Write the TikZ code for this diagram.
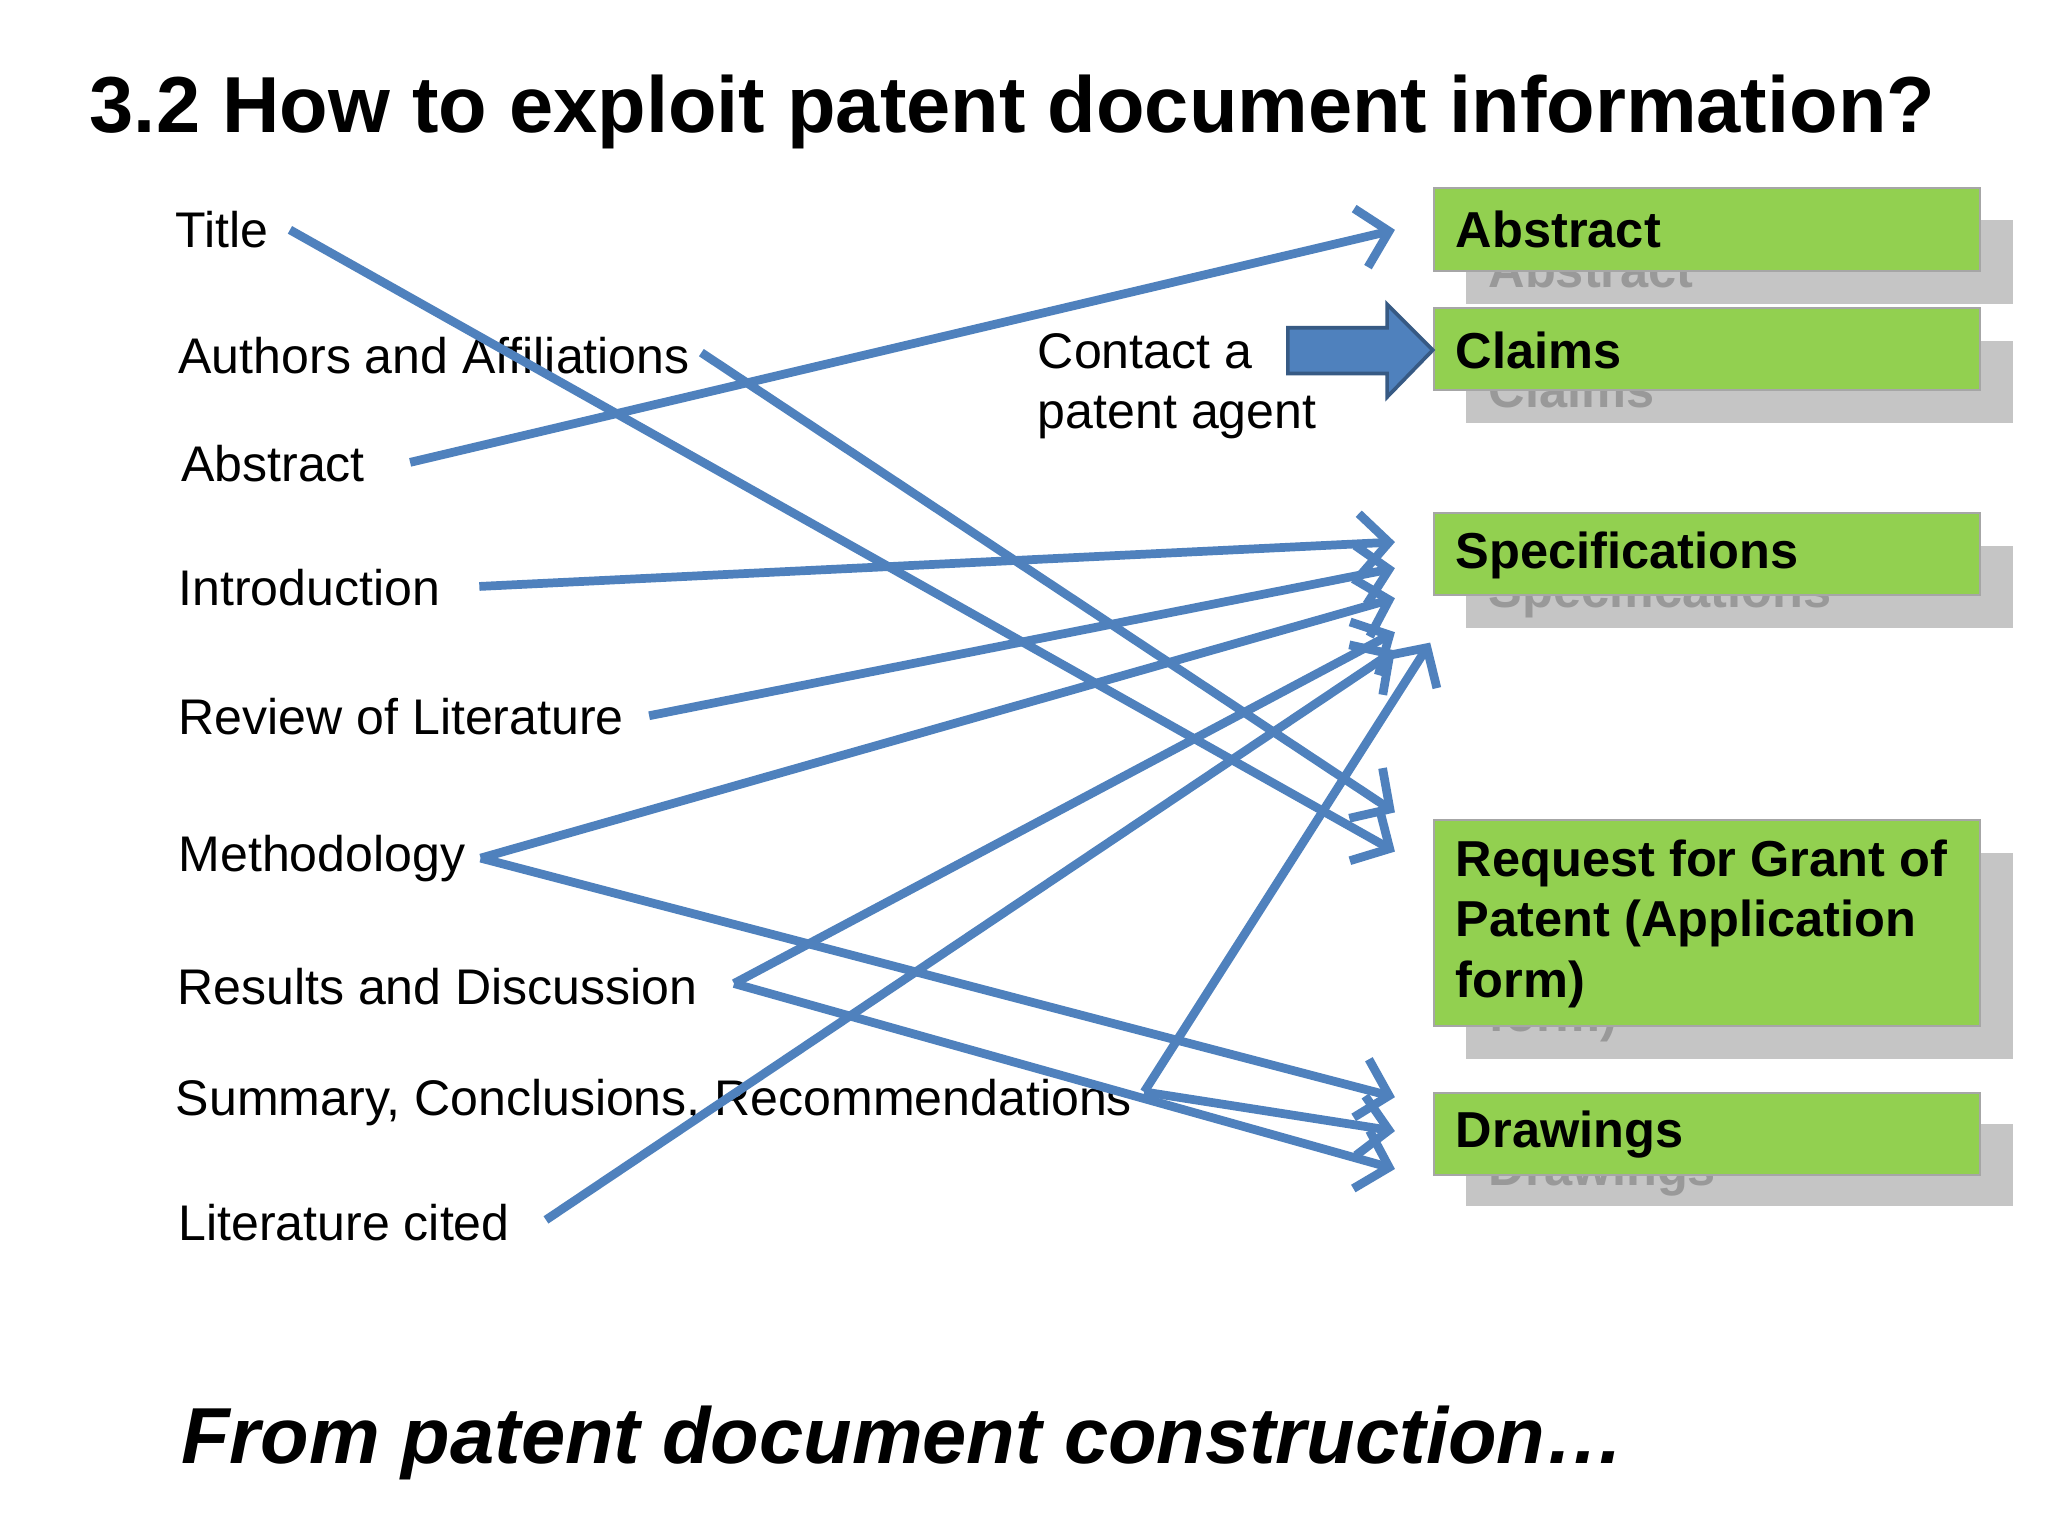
\documentclass[tikz,border=0pt]{standalone}
\usepackage{fontspec}
\setmainfont{Liberation Sans}
\usetikzlibrary{arrows.meta}
\definecolor{lb}{HTML}{4F81BD}
\definecolor{gr}{HTML}{92D050}
\tikzset{
 lab/.style={anchor=west,inner sep=0pt,font=\fontsize{10.9pt}{13pt}\selectfont},
 box/.style={draw=gray!70,fill=gr,minimum width=4.18cm,anchor=north west,inner sep=0pt},
 shd/.style={fill=black!30,draw=none,minimum width=4.18cm,anchor=north west,inner sep=0pt,opacity=0.75},
 btxt/.style={inner sep=0pt,font=\bfseries\fontsize{11pt}{13.2pt}\selectfont},
 con/.style={draw=lb,line width=1.9pt,-{Straight Barb[length=2.2mm,width=4.6mm,line width=1.9pt]}}
}
\begin{document}
\begin{tikzpicture}[x=0.01cm,y=-0.01cm]
\useasboundingbox[fill=white] (0,0) rectangle (1568,1176);
\node[anchor=west,inner sep=0pt,font=\bfseries\fontsize{17.3pt}{20pt}\selectfont] (t) at (68,86) {3.2 How to exploit patent document information?};
\node[anchor=west,inner sep=0pt,font=\bfseries\itshape\fontsize{17.3pt}{20pt}\selectfont] (b) at (138,1105) {From patent document construction…};
% shadows
\foreach \y/\h/\t in {168/64/Abstract,260/63/Claims,417/63/Specifications,860/63/Drawings}{
 \node[shd,minimum height=\h*0.01cm] at (1122,\y) {};
 \node[anchor=west,text=black!40,btxt] at (1139,\y+38) {\t};
}
\node[shd,minimum height=1.58cm] at (1122,652) {};
\node[anchor=west,text=black!40,btxt] at (1139,780) {form)};
% boxes
\node[box,minimum height=0.64cm] (abs) at (1097,143) {};
\node[anchor=west,btxt] at (1114,176) {Abstract};
\node[box,minimum height=0.63cm] (cla) at (1097,235) {};
\node[anchor=west,btxt] at (1114,268) {Claims};
\node[box,minimum height=0.63cm] (spe) at (1097,392) {};
\node[anchor=west,btxt] at (1114,425) {Specifications};
\node[box,minimum height=1.58cm] (req) at (1097,627) {};
\node[anchor=north west,btxt,align=left] at (1114,642) {Request for Grant of\\Patent (Application\\form)};
\node[box,minimum height=0.63cm] (dra) at (1097,836) {};
\node[anchor=west,btxt] at (1114,869) {Drawings};
% labels
\node[lab] (l1) at (134,176) {Title};
\node[lab] (l2) at (136,272) {Authors and Affiliations};
\node[lab] (l3) at (138,355) {Abstract};
\node[lab] (l4) at (136,450) {Introduction};
\node[lab] (l5) at (136,549) {Review of Literature};
\node[lab] (l6) at (136,657) {Methodology};
\node[lab] (l7) at (135,755) {Results and Discussion};
\node[lab] (l8) at (134,844) {Summary, Conclusions, Recommendations};
\node[lab] (l9) at (136,936) {Literature cited};
\node[lab,align=left,anchor=north west] (ca) at (794,255) {Contact a\\patent agent};
% block arrow
\draw[fill=lb,draw=lb!70!black,line width=0.8pt] (986,251) -- (1062,251) -- (1062,233) -- (1097,268) -- (1062,304) -- (1062,286) -- (986,286) -- cycle;
% connectors
\coordinate (s1) at (222,176); \coordinate (s2) at (537,270); \coordinate (s3) at (314,354);
\coordinate (s4) at (367,449); \coordinate (s5) at (497,548); \coordinate (s6) at (368,657);
\coordinate (s7) at (562,753); \coordinate (s8) at (876,836); \coordinate (s9) at (418,934);
\draw[con] (s1) -- (1068,652);
\draw[con] (s2) -- (1068,622);
\draw[con] (s3) -- (1068,176);
\draw[con] (s4) -- (1068,415);
\draw[con] (s5) -- (1068,435);
\draw[con] (s6) -- (1068,458);
\draw[con] (s6) -- (1068,840);
\draw[con] (s7) -- (1068,484);
\draw[con] (s7) -- (1068,895);
\draw[con] (s8) -- (1095,492);
\draw[con] (s8) -- (1068,866);
\draw[con] (s9) -- (1068,498);
\end{tikzpicture}
\end{document}
